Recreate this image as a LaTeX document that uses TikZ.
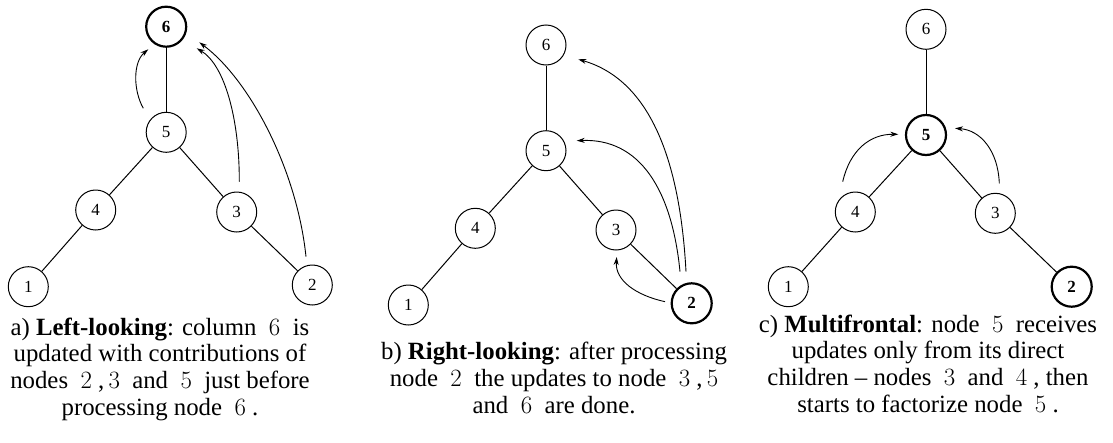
\documentclass[tikz,border=0pt]{standalone}
\usepackage{fontspec}
\setmainfont{Liberation Serif}
\usetikzlibrary{arrows.meta}
\tikzset{
  tn/.style={circle, draw, line width=1pt, minimum size=40pt, inner sep=0pt,
    font=\fontsize{17}{20}\selectfont},
  hn/.style={tn, line width=2.2pt, font=\fontsize{17}{20}\selectfont\bfseries},
  edge/.style={line width=1pt},
  upd/.style={line width=0.9pt, -{Stealth[length=8pt,width=5pt]}},
  captxt/.style={align=center, inner sep=0pt, anchor=base,
    font=\fontsize{24.8}{26.6}\selectfont}
}
\begin{document}
\begin{tikzpicture}[x=1pt,y=-1pt]
\useasboundingbox (0,0) rectangle (1113,442);
% ---------- panel a ----------
\node[hn] (a6) at (166.2,26.7) {6};
\node[tn] (a5) at (166.2,132.3) {5};
\node[tn] (a4) at (95.7,210) {4};
\node[tn] (a3) at (236.7,212) {3};
\node[tn] (a1) at (28.3,286.7) {1};
\node[tn] (a2) at (312.3,285) {2};
\draw[edge] (a6) -- (a5);
\draw[edge] (a5) -- (a4);
\draw[edge] (a5) -- (a3);
\draw[edge] (a4) -- (a1);
\draw[edge] (a3) -- (a2);
\coordinate (a5o) at (143.3,108.3);
\coordinate (a3o) at (239.3,181.7);
\coordinate (a2o) at (306,256.7);
\coordinate (a6i1) at (148.3,49.3);
\coordinate (a6i2) at (196.7,48.3);
\coordinate (a6i3) at (199.3,42.3);
\draw[upd] (a5o) .. controls (133,90) and (133,62) .. (a6i1);
\draw[upd] (a3o) .. controls (239.5,120) and (225,65) .. (a6i2);
\draw[upd] (a2o) .. controls (297,170) and (250,80) .. (a6i3);
\node[captxt] (capa) at (160,415) {a) \textbf{Left-looking}: column~~$6$~~is\\
  updated with contributions of\\
  nodes~~$2$~,$\,3$~~and~~$5$~~just before\\
  processing node~~$6$~.};
% ---------- panel b ----------
\node[tn] (b6) at (546,45) {6};
\node[tn] (b5) at (546,150.7) {5};
\node[tn] (b4) at (475.3,228.3) {4};
\node[tn] (b3) at (616,230) {3};
\node[tn] (b1) at (408.3,305) {1};
\node[hn] (b2) at (691.7,303.3) {2};
\draw[edge] (b6) -- (b5);
\draw[edge] (b5) -- (b4);
\draw[edge] (b5) -- (b3);
\draw[edge] (b4) -- (b1);
\draw[edge] (b3) -- (b2);
\coordinate (b2o1) at (686,271.7);
\coordinate (b2o2) at (680,271.7);
\coordinate (b2o3) at (665,301.7);
\coordinate (b6i) at (578.3,59.3);
\coordinate (b5i) at (576.7,140.7);
\coordinate (b3i) at (616.7,257);
\draw[upd] (b2o1) .. controls (680,160) and (650,80) .. (b6i);
\draw[upd] (b2o2) .. controls (672,190) and (640,138) .. (b5i);
\draw[upd] (b2o3) .. controls (635,295) and (615,280) .. (b3i);
\node[captxt] (capb) at (554,413) {b) \textbf{Right-looking}: after processing\\
  node~~$2$~~the updates to node~~$3$~,$\,5$\\
  and~~$6$~~are done.};
% ---------- panel c ----------
\node[tn] (c6) at (926,29.3) {6};
\node[hn] (c5) at (926,135) {5};
\node[tn] (c4) at (855.3,212) {4};
\node[tn] (c3) at (995.3,213.3) {3};
\node[tn] (c1) at (788.3,286.7) {1};
\node[hn] (c2) at (1071.7,286.7) {2};
\draw[edge] (c6) -- (c5);
\draw[edge] (c5) -- (c4);
\draw[edge] (c5) -- (c3);
\draw[edge] (c4) -- (c1);
\draw[edge] (c3) -- (c2);
\coordinate (c4o) at (842.7,181.7);
\coordinate (c3o) at (999.3,183.3);
\coordinate (c5i1) at (898.3,134.3);
\coordinate (c5i2) at (955,128.3);
\draw[upd] (c4o) .. controls (850,150) and (870,134) .. (c5i1);
\draw[upd] (c3o) .. controls (998,150) and (980,130) .. (c5i2);
\node[captxt] (capc) at (928,412) {c) \textbf{Multifrontal}: node~~$5$~~receives\\
  updates only from its direct\\
  children -- nodes~~$3$~~and~~$4$~, then\\
  starts to factorize node~~$5$~.};
\end{tikzpicture}
\end{document}
